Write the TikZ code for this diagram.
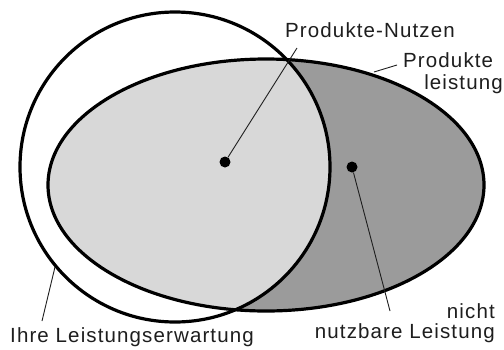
\documentclass[tikz,border=0pt]{standalone}
\usepackage{fontspec}
\setmainfont{Liberation Sans}[LetterSpace=5.5]
\usetikzlibrary{positioning}
\definecolor{hellgrau}{RGB}{216,216,216}
\definecolor{dunkelgrau}{RGB}{155,155,155}
\definecolor{schrift}{RGB}{30,30,30}

\begin{document}
\begin{tikzpicture}[x=1pt,y=-1pt,
  lbl/.style={font=\fontsize{20.5}{21}\selectfont,text=schrift,inner sep=0pt},
  rand/.style={line width=3.2pt,draw=black},
  leader/.style={line width=0.9pt,draw=schrift},
  punkt/.style={circle,fill=black,inner sep=0pt,minimum size=11pt}]

\useasboundingbox[fill=white] (0,0) rectangle (504,349);

% Flaechen: Leistung dunkel, Schnittmenge hell
\fill[dunkelgrau] (266,185) ellipse[x radius=218pt,y radius=126pt];
\begin{scope}
  \clip (175,167) circle[radius=155pt];
  \fill[hellgrau] (266,185) ellipse[x radius=218pt,y radius=126pt];
\end{scope}
\draw[rand] (175,167) circle[radius=155pt];
\draw[rand] (266,185) ellipse[x radius=218pt,y radius=126pt];

% Beschriftungen
\node[lbl,anchor=base west] (nutzen) at (285,37) {Produkte-Nutzen};
\node[lbl,anchor=base west] (prod) at (403,67) {Produkte};
\node[lbl,anchor=base east] (leist) at (503,89) {leistung};
\node[lbl,anchor=base west] (erw) at (10,342) {Ihre Leistungserwartung};
\node[lbl,anchor=base east] (nicht) at (495,318) {nicht};
\node[lbl,anchor=base east] (nutzbar) at (495,338) {nutzbare Leistung};

\node[punkt] (pA) at (225,162) {};
\node[punkt] (pB) at (352,167) {};

\coordinate (eNutzen) at (297,48);
\coordinate (eNicht) at (390,311);
\coordinate (eProdA) at (374,72);
\coordinate (eProdB) at (397,65);
\coordinate (eErwA) at (55,267);
\coordinate (eErwB) at (42,321);

\draw[leader] (pA) -- (eNutzen);
\draw[leader] (pB) -- (eNicht);
\draw[leader] (eProdA) -- (eProdB);
\draw[leader] (eErwA) -- (eErwB);
\end{tikzpicture}
\end{document}
